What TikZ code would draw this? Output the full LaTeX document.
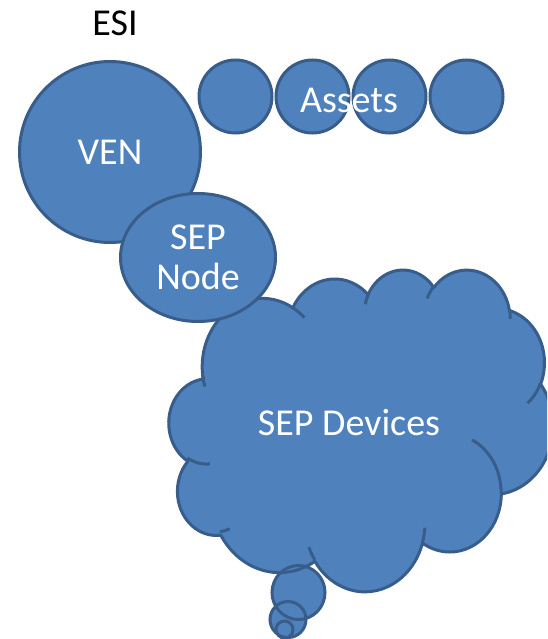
\documentclass[tikz,border=0pt]{standalone}
\usepackage{fontspec}
\setmainfont{Carlito}
\usepackage{xcolor}
\usetikzlibrary{positioning,shapes.geometric}

\definecolor{blobfill}{HTML}{4F81BD}
\definecolor{blobline}{HTML}{385D8A}

\begin{document}
\begin{tikzpicture}[
  x=1pt, y=-1pt,
  big/.style={font=\fontsize{38}{40}\selectfont},
  lbl/.style={big, anchor=base},
  blob/.style={draw=blobline, fill=blobfill, line width=3pt, text=white, inner sep=0pt, big},
  rim/.style={draw=blobline, line width=3pt},
  ball/.style={blob, circle},
  egg/.style={blob, ellipse, align=center}
]
  \useasboundingbox (0,0) rectangle (547,639);
  \clip (0,0) rectangle (547,639);

  \node[lbl] (esi) at (115,36) {ESI};

  % row of assets
  \node[ball, minimum size=73pt] (asset1) at (235.5,96.5) {};
  \node[ball, minimum size=73pt, right=1pt of asset1] (asset2) {};
  \node[ball, minimum size=73pt, right=1pt of asset2] (asset3) {};
  \node[ball, minimum size=73pt, right=1pt of asset3] (asset4) {};
  \node[lbl, text=white] (assets) at (349,112.5) {Assets};

  \node[ball, minimum size=181pt] (ven) at (110,152) {VEN};

  % thought bubbles, filled first so the outlines stay on top
  \fill[blobfill] (298.5,592.5) circle[x radius=26.5, y radius=27]
    (288,619.5) circle[radius=18] (284.5,629.5) circle[radius=8.5];

  % cloud of devices
  \begin{scope}[shift={(168,269)}, x=0.008912pt, y=-0.0074537pt]
    \path[blob, line join=round] (3900,14370)
      arc[start angle=-187.75, end angle=-59.63, x radius=6753, y radius=9190]
      arc[start angle=-152.03, end angle=-45.45, x radius=5333, y radius=7267]
      arc[start angle=-153.50, end angle=-37.35, x radius=4365, y radius=5945]
      arc[start angle=-139.70, end angle=-10.21, x radius=4857, y radius=6595]
      arc[start angle=-74.77, end angle=23.21, x radius=5333, y radius=7273]
      arc[start angle=-37.54, end angle=81.86, x radius=6775, y radius=9220]
      arc[start angle=0.46, end angle=121.98, x radius=5785, y radius=7867]
      arc[start angle=16.84, end angle=146.22, x radius=6752, y radius=9215]
      arc[start angle=58.98, end angle=148.49, x radius=7720, y radius=10543]
      arc[start angle=-276.69, end angle=-136.89, x radius=4360, y radius=5918]
      arc[start angle=-239.65, end angle=-95.89, x radius=4345, y radius=5945]
      -- cycle;
    \draw[rim]
      (4693,26177) arc[start angle=85.55, end angle=120.35, x radius=4345, y radius=5945]
      (6928,34899) arc[start angle=68.24, end angle=83.31, x radius=4360, y radius=5918]
      (16478,39090) arc[start angle=146.22, end angle=158.47, x radius=6752, y radius=9215]
      (28827,34751) arc[start angle=4.74, end angle=16.84, x radius=6752, y radius=9215]
      (34129,22954) arc[start angle=-64.03, end angle=0.46, x radius=5785, y radius=7867]
      (41798,15354) arc[start angle=23.21, end angle=49.64, x radius=5333, y radius=7273]
      (38324,5426) arc[start angle=-10.21, end angle=0.82, x radius=4857, y radius=6595]
      (29078,3952) arc[start angle=-156.29, end angle=-139.70, x radius=4857, y radius=6595]
      (22141,4720) arc[start angle=-167.73, end angle=-153.50, x radius=4365, y radius=5945]
      (14000,5192) arc[start angle=-59.63, end angle=-45.74, x radius=6753, y radius=9190]
      (4127,15789) arc[start angle=163.19, end angle=172.25, x radius=6753, y radius=9190];
  \end{scope}

  \draw[rim] (298.5,592.5) circle[x radius=26.5, y radius=27]
    (288,619.5) circle[radius=18] (284.5,629.5) circle[radius=8.5];

  \node[lbl, text=white] (devices) at (349,435) {SEP Devices};

  \node[egg, minimum width=155pt, minimum height=128pt] (sep) at (198,257.5) {SEP\\Node};
\end{tikzpicture}
\end{document}
